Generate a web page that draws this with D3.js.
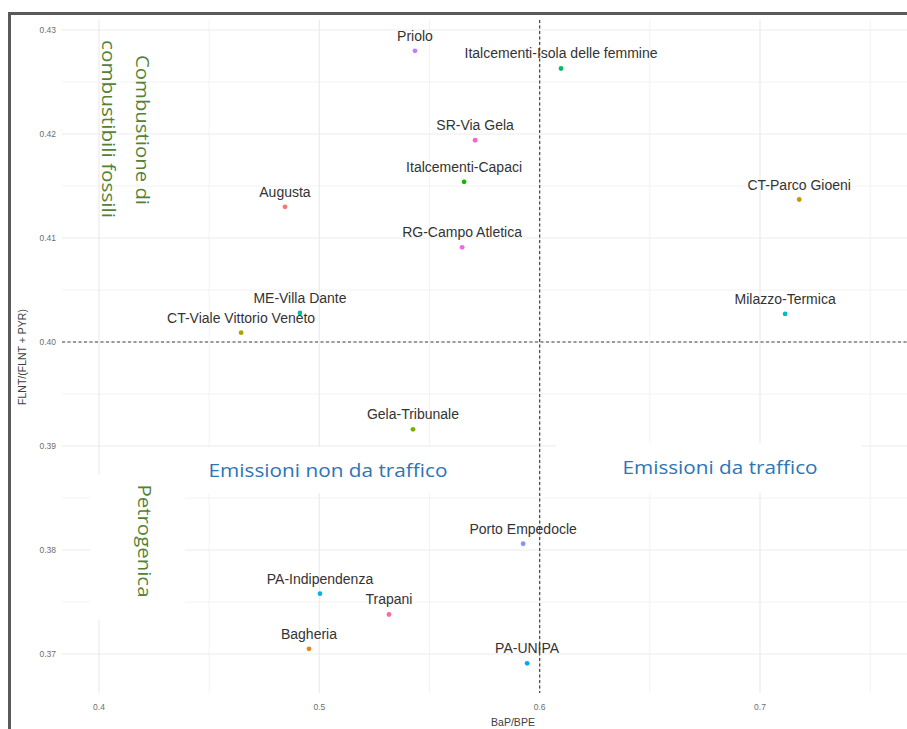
<!DOCTYPE html>
<html>
<head>
<meta charset="utf-8">
<script src="https://cdn.jsdelivr.net/npm/d3@7"></script>
<style>
  body { margin: 0; background: #fff; }
  svg { display: block; font-family: "Liberation Sans", Arial, sans-serif; }
</style>
</head>
<body>
<div id="chart"></div>
<script>
// sites, BaP/BPE (x) and FLNT/(FLNT + PYR) (y)
const sites = [
  "Augusta", "Bagheria", "CT-Parco Gioeni", "CT-Viale Vittorio Veneto",
  "Gela-Tribunale", "Italcementi-Capaci", "Italcementi-Isola delle femmine",
  "ME-Villa Dante", "Milazzo-Termica", "PA-Indipendenza", "PA-UNIPA",
  "Porto Empedocle", "Priolo", "RG-Campo Atletica", "SR-Via Gela", "Trapani"
];
const bapBpe = [
  0.4844, 0.4953, 0.7178, 0.4645,
  0.5425, 0.5657, 0.6097,
  0.4912, 0.7114, 0.5003, 0.5943,
  0.5925, 0.5434, 0.5648, 0.5707, 0.5316
];
const flntRatio = [
  0.4130, 0.3705, 0.4137, 0.4009,
  0.3916, 0.4154, 0.4263,
  0.4028, 0.4027, 0.3758, 0.3691,
  0.3806, 0.4280, 0.4091, 0.4194, 0.3738
];
const xTicks = [0.4, 0.5, 0.6, 0.7];
const xMinor = [0.45, 0.55, 0.65, 0.75];
const yTicks = [0.37, 0.38, 0.39, 0.40, 0.41, 0.42, 0.43];
const yMinor = [0.375, 0.385, 0.395, 0.405, 0.415, 0.425];
const xCut = 0.6;   // vertical threshold
const yCut = 0.40;  // horizontal threshold

// ggplot-like hue palette (polar LUV, c=100, l=65)
function hueColor(h) {
  const L = 65, C = 100, hr = h * Math.PI / 180;
  const U = C * Math.cos(hr), V = C * Math.sin(hr);
  const Y = Math.pow((L + 16) / 116, 3);
  const un = 0.1978398, vn = 0.4683363;
  const u = U / (13 * L) + un, v = V / (13 * L) + vn;
  const X = 9 * Y * u / (4 * v);
  const Z = -X / 3 - 5 * Y + 3 * Y / v;
  const lin = [
    3.240479 * X - 1.53715 * Y - 0.498535 * Z,
    -0.969256 * X + 1.875992 * Y + 0.041556 * Z,
    0.055648 * X - 0.204043 * Y + 1.057311 * Z
  ];
  const g = lin.map(c => {
    const s = c <= 0.0031308 ? 12.92 * c : 1.055 * Math.pow(c, 1 / 2.4) - 0.055;
    return Math.round(Math.max(0, Math.min(1, s)) * 255);
  });
  return d3.rgb(g[0], g[1], g[2]).formatHex();
}

const data = sites.map((s, i) => ({ site: s, x: bapBpe[i], y: flntRatio[i] }));
const palette = sites.map((s, i) => hueColor(15 + i * 360 / sites.length));

const width = 907, height = 729;
const panel = { left: 62, right: 964, top: 20, bottom: 693 };

const svg = d3.select("#chart").append("svg")
  .attr("width", width)
  .attr("height", height);

const x = d3.scaleLinear().domain([0.4, 0.7]).range([99, 760]);
const y = d3.scaleLinear().domain([0.37, 0.43]).range([654, 30]);
const color = d3.scaleOrdinal().domain(sites).range(palette);

// grid
const grid = svg.append("g");
grid.selectAll("line.vminor").data(xMinor).join("line")
  .attr("x1", d => x(d)).attr("x2", d => x(d))
  .attr("y1", panel.top).attr("y2", panel.bottom)
  .attr("stroke", "#f2f2f2").attr("stroke-width", 1);
grid.selectAll("line.hminor").data(yMinor).join("line")
  .attr("y1", d => y(d)).attr("y2", d => y(d))
  .attr("x1", panel.left).attr("x2", panel.right)
  .attr("stroke", "#f2f2f2").attr("stroke-width", 1);
grid.selectAll("line.vmajor").data(xTicks).join("line")
  .attr("x1", d => x(d)).attr("x2", d => x(d))
  .attr("y1", panel.top).attr("y2", panel.bottom)
  .attr("stroke", "#ebebeb").attr("stroke-width", 1.2);
grid.selectAll("line.hmajor").data(yTicks).join("line")
  .attr("y1", d => y(d)).attr("y2", d => y(d))
  .attr("x1", panel.left).attr("x2", panel.right)
  .attr("stroke", "#ebebeb").attr("stroke-width", 1.2);

// tick labels
svg.append("g").selectAll("text").data(xTicks).join("text")
  .attr("x", d => x(d)).attr("y", 710)
  .attr("text-anchor", "middle")
  .attr("font-size", 8.5).attr("fill", "#6e6e6e")
  .text(d => d3.format(".1f")(d));
svg.append("g").selectAll("text").data(yTicks).join("text")
  .attr("x", 56).attr("y", d => y(d))
  .attr("dy", "0.35em")
  .attr("text-anchor", "end")
  .attr("font-size", 8.5).attr("fill", "#6e6e6e")
  .text(d => d3.format(".2f")(d));

// axis titles
svg.append("text")
  .attr("x", 513).attr("y", 726)
  .attr("text-anchor", "middle")
  .attr("font-size", 10.5).attr("fill", "#404040")
  .text("BaP/BPE");
svg.append("text")
  .attr("transform", "translate(26,357) rotate(-90)")
  .attr("text-anchor", "middle")
  .attr("font-size", 10.5).attr("fill", "#404040")
  .text("FLNT/(FLNT + PYR)");

// threshold lines
svg.append("line")
  .attr("x1", panel.left).attr("x2", panel.right)
  .attr("y1", y(yCut)).attr("y2", y(yCut))
  .attr("stroke", "#444").attr("stroke-width", 1.2)
  .attr("stroke-dasharray", "3,2.5");
svg.append("line")
  .attr("x1", x(xCut)).attr("x2", x(xCut))
  .attr("y1", panel.top).attr("y2", panel.bottom)
  .attr("stroke", "#444").attr("stroke-width", 1.2)
  .attr("stroke-dasharray", "3,2.5");

// points and labels
svg.append("g").selectAll("circle").data(data).join("circle")
  .attr("cx", d => x(d.x)).attr("cy", d => y(d.y))
  .attr("r", 2.4)
  .attr("fill", d => color(d.site));
svg.append("g").selectAll("text").data(data).join("text")
  .attr("x", d => x(d.x)).attr("y", d => y(d.y) - 10)
  .attr("text-anchor", "middle")
  .attr("font-size", 14).attr("fill", "#333")
  .text(d => d.site);

// annotation boxes (white, cover the grid)
const boxes = [
  [90, 475, 95, 145],
  [186, 447, 274, 46],
  [556, 443, 306, 50]
];
svg.append("g").selectAll("rect").data(boxes).join("rect")
  .attr("x", d => d[0]).attr("y", d => d[1])
  .attr("width", d => d[2]).attr("height", d => d[3])
  .attr("fill", "#fff");

const green = "#548235", blue = "#2e75b6";
const annFont = "'Open Sans', 'Noto Sans', sans-serif";
function vText(cx, cy, len, str) {
  svg.append("text")
    .attr("transform", `translate(${cx},${cy}) rotate(90)`)
    .attr("text-anchor", "middle")
    .attr("dominant-baseline", "central")
    .attr("font-family", annFont)
    .attr("font-size", 18).attr("fill", green)
    .attr("textLength", len).attr("lengthAdjust", "spacingAndGlyphs")
    .text(str);
}
vText(143, 130, 150, "Combustione di");
vText(109, 129, 178, "combustibili fossili");
vText(145, 541, 113, "Petrogenica");

function hText(cx, cy, len, str) {
  svg.append("text")
    .attr("x", cx).attr("y", cy)
    .attr("text-anchor", "middle")
    .attr("dominant-baseline", "central")
    .attr("font-family", annFont)
    .attr("font-size", 18).attr("fill", blue)
    .attr("textLength", len).attr("lengthAdjust", "spacingAndGlyphs")
    .text(str);
}
hText(328, 470, 239, "Emissioni non da traffico");
hText(720, 467, 195, "Emissioni da traffico");

// picture frame
svg.append("path")
  .attr("d", `M9.5,${height} V13.5 H${width}`)
  .attr("fill", "none")
  .attr("stroke", "#5a5a5a")
  .attr("stroke-width", 3);
</script>
</body>
</html>
